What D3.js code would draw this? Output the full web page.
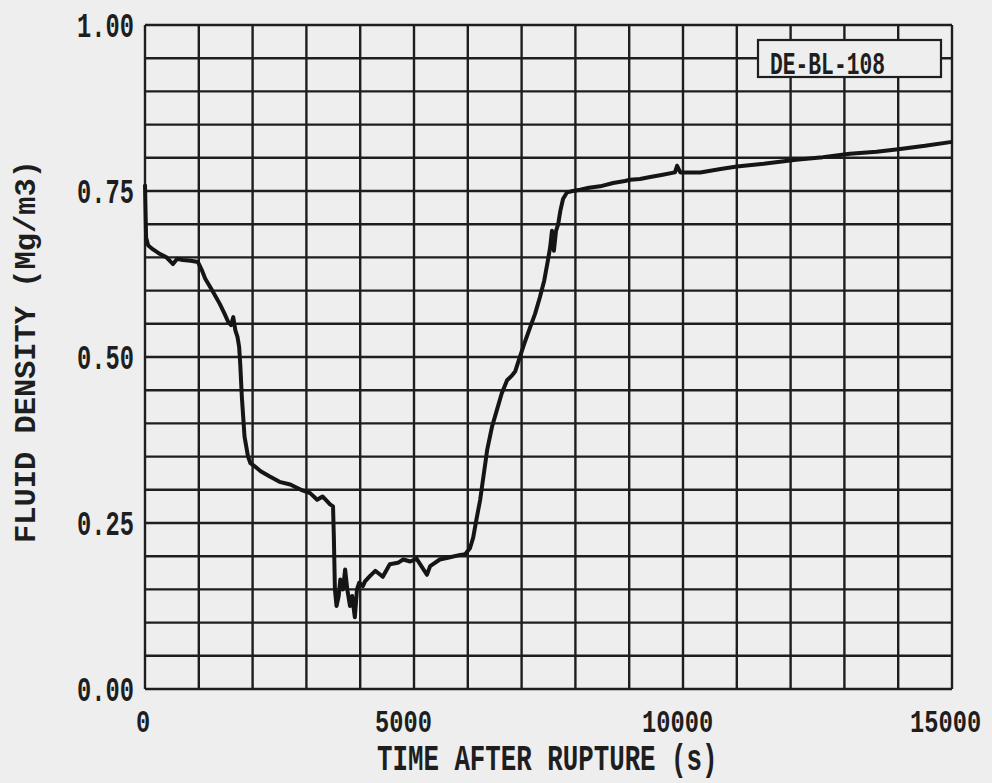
<!DOCTYPE html>
<html>
<head>
<meta charset="utf-8">
<script src="https://cdn.jsdelivr.net/npm/d3@7"></script>
<style>
  html, body { margin: 0; padding: 0; background: #eeeeee; }
  svg { display: block; }
  text { font-family: "Liberation Mono", "DejaVu Sans Mono", monospace; fill: #1e1e1e; font-weight: bold; }
</style>
</head>
<body>
<script>
// ---- data ----
const timeSec = [0, 20, 60, 150, 280, 400, 520, 600, 700, 850, 985, 1050, 1120, 1250, 1390, 1480, 1545, 1600, 1640, 1680, 1720, 1750, 1770, 1800, 1850, 1915, 1960, 2045, 2150, 2320, 2500, 2700, 2900, 3070, 3200, 3300, 3440, 3495, 3510, 3530, 3560, 3600, 3630, 3680, 3720, 3760, 3810, 3850, 3900, 3940, 3980, 4050, 4090, 4180, 4280, 4420, 4550, 4700, 4800, 4930, 5050, 5240, 5300, 5480, 5650, 5860, 5950, 6040, 6100, 6160, 6230, 6360, 6450, 6540, 6630, 6730, 6820, 6880, 6935, 7050, 7160, 7250, 7340, 7420, 7490, 7530, 7565, 7600, 7640, 7680, 7720, 7770, 7845, 7950, 8090, 8250, 8460, 8700, 8920, 9020, 9200, 9390, 9600, 9850, 9890, 9950, 10320, 10700, 11000, 11500, 12100, 12600, 13100, 13600, 14000, 14500, 15000];
const density = [0.760, 0.680, 0.668, 0.662, 0.655, 0.650, 0.640, 0.648, 0.646, 0.645, 0.643, 0.632, 0.618, 0.600, 0.580, 0.565, 0.553, 0.548, 0.560, 0.540, 0.530, 0.515, 0.490, 0.440, 0.380, 0.350, 0.340, 0.335, 0.328, 0.320, 0.312, 0.308, 0.300, 0.295, 0.285, 0.290, 0.278, 0.275, 0.230, 0.150, 0.125, 0.140, 0.165, 0.150, 0.180, 0.150, 0.125, 0.140, 0.108, 0.150, 0.160, 0.155, 0.162, 0.170, 0.178, 0.169, 0.188, 0.190, 0.195, 0.192, 0.196, 0.172, 0.185, 0.195, 0.198, 0.202, 0.203, 0.212, 0.228, 0.255, 0.285, 0.360, 0.395, 0.420, 0.445, 0.465, 0.472, 0.478, 0.492, 0.520, 0.545, 0.565, 0.590, 0.615, 0.646, 0.665, 0.690, 0.660, 0.690, 0.700, 0.720, 0.738, 0.748, 0.750, 0.752, 0.755, 0.757, 0.762, 0.765, 0.767, 0.768, 0.771, 0.774, 0.778, 0.788, 0.778, 0.778, 0.783, 0.787, 0.791, 0.797, 0.801, 0.806, 0.809, 0.813, 0.818, 0.824];

const xTickValues = [0, 5000, 10000, 15000];
const xTickLabels = ["0", "5000", "10000", "15000"];
const yTickValues = [0, 0.25, 0.5, 0.75, 1.0];
const yTickLabels = ["0.00", "0.25", "0.50", "0.75", "1.00"];
const xGridStep = 1000;
const yGridStep = 0.05;
const legendLabel = "DE-BL-108";
const xTitle = "TIME AFTER RUPTURE (s)";
const yTitle = "FLUID DENSITY (Mg/m3)";

// ---- drawing ----
const W = 992, H = 783;
const svg = d3.select("body").append("svg").attr("width", W).attr("height", H);
svg.append("rect").attr("width", W).attr("height", H).attr("fill", "#eeeeee");

const x = d3.scaleLinear().domain([0, 15000]).range([145, 952]);
const y = d3.scaleLinear().domain([0, 1]).range([689, 25]);
const ink = "#1e1e1e";

// tall, narrow plotter-style text: natural monospace width, stretched vertically
function label(str, tx, ty, fs, sy, anchor) {
  return svg.append("text")
    .attr("transform", `translate(${tx},${ty}) scale(1,${sy})`)
    .attr("font-size", fs)
    .attr("text-anchor", anchor || "start")
    .text(str);
}

// grid
const gx = d3.range(0, 15000 + 1, xGridStep);
const gy = d3.range(0, 20 + 1).map(i => +(i * yGridStep).toFixed(2));
const grid = svg.append("g");
grid.selectAll("line.v").data(gx).join("line")
  .attr("x1", d => x(d)).attr("x2", d => x(d))
  .attr("y1", y(1)).attr("y2", y(0))
  .attr("stroke", ink).attr("stroke-width", 2.4);
grid.selectAll("line.h").data(gy).join("line")
  .attr("y1", d => y(d)).attr("y2", d => y(d))
  .attr("x1", x(0)).attr("x2", x(15000))
  .attr("stroke", ink).attr("stroke-width", 2.4);

// data line
const pts = timeSec.map((t, i) => [t, density[i]]);
svg.append("path").datum(pts)
  .attr("fill", "none").attr("stroke", "#151515")
  .attr("stroke-width", 4).attr("stroke-linejoin", "round")
  .attr("d", d3.line().x(d => x(d[0])).y(d => y(d[1])));

// legend box
svg.append("rect").attr("x", 758).attr("y", 40).attr("width", 183).attr("height", 37)
  .attr("fill", "#eeeeee").attr("stroke", ink).attr("stroke-width", 2.2);
label(legendLabel, 770, 74, 21.3, 1.45);

// y tick labels
yTickValues.forEach((v, i) => label(yTickLabels[i], 77, y(v) + 11.5, 23.75, 1.45));

// x tick labels (start positions)
const xLabelStart = [136, 375, 642, 910];
xTickValues.forEach((v, i) => label(xTickLabels[i], xLabelStart[i], 732, 23.7, 1.34));

// axis titles
label(xTitle, 377, 770, 25.8, 1.4);
svg.append("text")
  .attr("transform", "translate(35,543) rotate(-90)")
  .attr("font-size", 30.4)
  .text(yTitle);
</script>
</body>
</html>
